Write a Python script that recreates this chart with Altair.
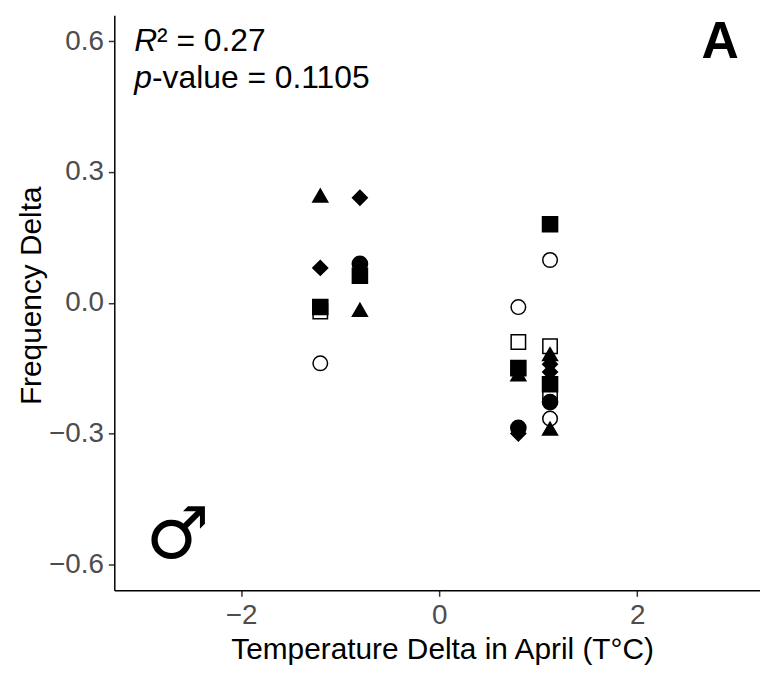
import altair as alt
import pandas as pd

# ---- data ----
groups = ["G1", "G2", "G3", "G4", "G5", "G6"]
group_shapes = ["circle", "square", "triangle-up", "diamond", "circle", "square"]
group_fills = ["black", "black", "black", "black", "white", "white"]
group_sizes = [235, 210, 360, 230, 230, 240]

# open symbols first so the filled ones are drawn on top
pt_group = ["G5", "G5", "G5", "G5",
            "G6", "G6", "G6", "G6",
            "G1", "G1", "G1",
            "G2", "G2", "G2", "G2", "G2",
            "G3", "G3", "G3", "G3", "G3",
            "G4", "G4", "G4", "G4", "G4"]
pt_temp = [-1.2, 0.8, 1.12, 1.12,
           -1.2, 0.8, 1.12, 1.12,
           -0.8, 0.8, 1.12,
           -1.2, -0.8, 0.8, 1.12, 1.12,
           -1.2, -0.8, 0.8, 1.12, 1.12,
           -1.2, -0.8, 0.8, 1.12, 1.12]
pt_freq = [-0.139, -0.010, 0.098, -0.266,
           -0.020, -0.090, -0.100, -0.205,
           0.089, -0.287, -0.228,
           -0.010, 0.062, -0.150, 0.180, -0.187,
           0.246, -0.016, -0.164, -0.118, -0.289,
           0.080, 0.241, -0.300, -0.141, -0.159]

x_ticks = [-2, 0, 2]
y_ticks = [-0.6, -0.3, 0.0, 0.3, 0.6]

df = pd.DataFrame({"group": pt_group, "temp": pt_temp, "freq": pt_freq})

FONT = "Liberation Sans"

points = alt.Chart(df).mark_point(
    filled=True, stroke="black", strokeWidth=1.5, opacity=1
).encode(
    x=alt.X("temp:Q",
            scale=alt.Scale(domain=[-3.28, 3.24], nice=False, zero=False),
            axis=alt.Axis(values=x_ticks, title="Temperature Delta in April (T°C)",
                          format="d", labelPadding=5, titlePadding=6, titleX=330)),
    y=alt.Y("freq:Q",
            scale=alt.Scale(domain=[-0.66, 0.66], nice=False, zero=False),
            axis=alt.Axis(values=y_ticks, title="Frequency Delta", format=".1f",
                          labelPadding=5, titlePadding=2, titleY=282)),
    shape=alt.Shape("group:N", scale=alt.Scale(domain=groups, range=group_shapes), legend=None),
    fill=alt.Fill("group:N", scale=alt.Scale(domain=groups, range=group_fills), legend=None),
    size=alt.Size("group:N", scale=alt.Scale(domain=groups, range=group_sizes), legend=None),
)


def label(text, x, y, size, align="left", style="normal", weight="normal", font=FONT):
    return alt.Chart(pd.DataFrame({"t": [text]})).mark_text(
        align=align, baseline="alphabetic", fontSize=size, font=font,
        fontStyle=style, fontWeight=weight, color="black"
    ).encode(x=alt.value(x), y=alt.value(y), text="t:N")


annots = [
    label("R", 20, 36, 32, style="italic"),
    label("² = 0.27", 43, 36, 32),
    label("p", 20, 73, 32, style="italic"),
    label("-value = 0.1105", 38, 73, 32),
    label("A", 610, 43, 52, align="center", weight="bold"),
    label("♂", 64, 546, 72, align="center", font="DejaVu Sans"),
]

chart = alt.layer(points, *annots).properties(
    width=650, height=579,
    autosize="none",
    padding={"left": 107, "top": 5, "right": 0, "bottom": 77},
    background="white",
).configure_view(stroke=None).configure_axis(
    grid=False,
    domainColor="black", domainWidth=1.5,
    tickColor="#333333", tickWidth=1.5, tickSize=6,
    labelColor="#4D4D4D", labelFontSize=28, labelFont=FONT,
    titleColor="black", titleFontSize=30, titleFont=FONT, titleFontWeight="normal",
)

chart.save("out.html", embed_options={"renderer": "svg", "actions": False})
